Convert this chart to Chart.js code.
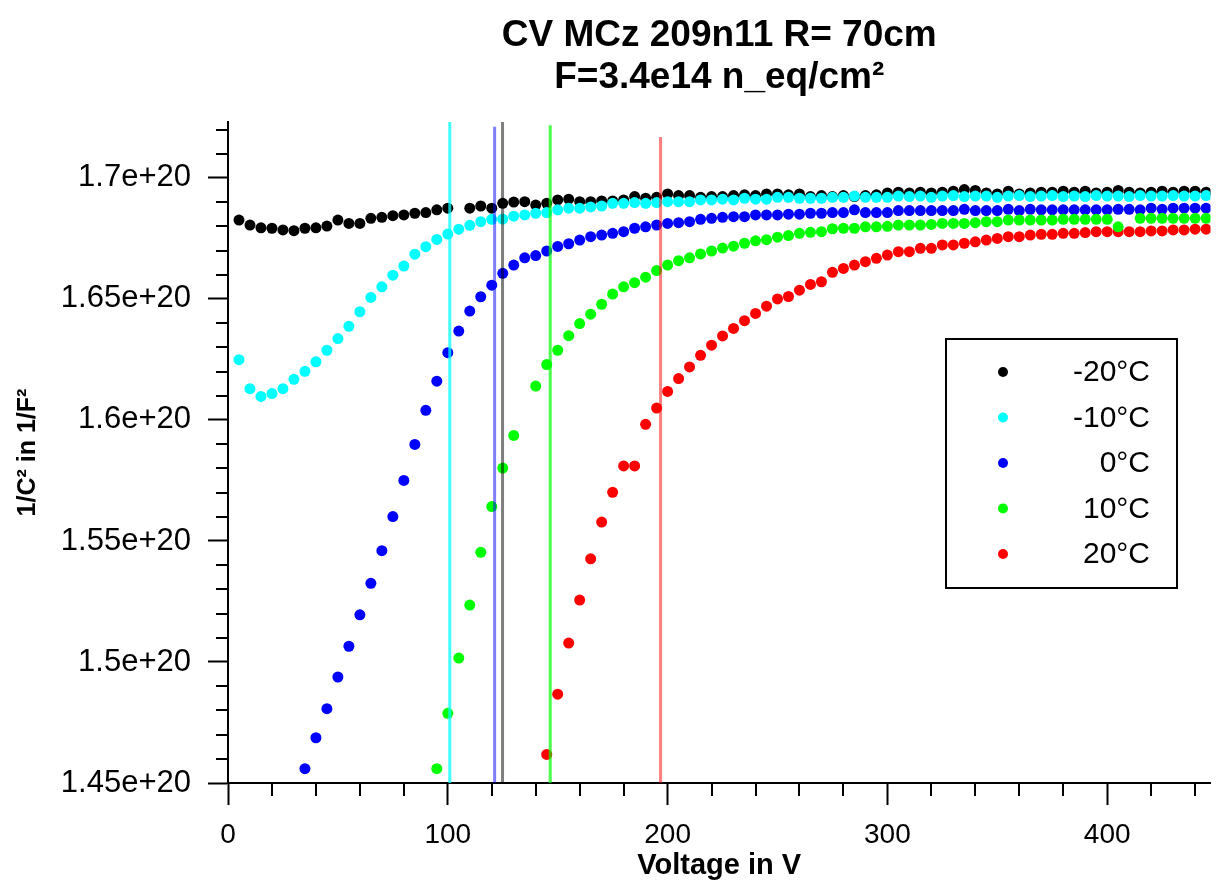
<!DOCTYPE html>
<html lang="en">
<head>
<meta charset="UTF-8">
<title>CV MCz 209n11 R= 70cm</title>
<script src="https://cdn.jsdelivr.net/npm/chart.js"></script>
<style>
  html, body { margin: 0; padding: 0; background: #fff; }
  #wrap { width: 1216px; height: 892px; }
</style>
</head>
<body>
<div id="wrap"><canvas id="cvChart" width="1216" height="892"></canvas></div>
<script>
// bias voltage in V (shared by all series, null = no point)
const voltages = [
  5, 10, 15, 20, 25, 30, 35, 40, 45, 50,
  55, 60, 65, 70, 75, 80, 85, 90, 95, 100,
  105, 110, 115, 120, 125, 130, 135, 140, 145, 150,
  155, 160, 165, 170, 175, 180, 185, 190, 195, 200,
  205, 210, 215, 220, 225, 230, 235, 240, 245, 250,
  255, 260, 265, 270, 275, 280, 285, 290, 295, 300,
  305, 310, 315, 320, 325, 330, 335, 340, 345, 350,
  355, 360, 365, 370, 375, 380, 385, 390, 395, 400,
  405, 410, 415, 420, 425, 430, 435, 440, 445
];

const tempLabels = ['-20°C', '-10°C', '0°C', '10°C', '20°C'];

// 1/C^2 in units of 1e20 F^-2
const invC2_m20 = [
  1.6826, 1.6805, 1.6794, 1.6792, 1.6785, 1.6782, 1.6792, 1.6794, 1.6801, 1.6826,
  1.6812, 1.6812, 1.6833, 1.6837, 1.6844, 1.6847, 1.6854, 1.6857, 1.6868, 1.6875,
  null,   1.6875, 1.6884, 1.6875, 1.6895, 1.6900, 1.6902, 1.6888, 1.6895, 1.6909,
  1.6912, 1.6902, 1.6902, 1.6905, 1.6905, 1.6909, 1.6923, 1.6916, 1.6920, 1.6934,
  1.6927, 1.6927, 1.6920, 1.6923, 1.6923, 1.6927, 1.6930, 1.6927, 1.6934, 1.6934,
  1.6930, 1.6934, 1.6923, 1.6927, 1.6923, 1.6927, 1.6923, 1.6927, 1.6930, 1.6938,
  1.6941, 1.6938, 1.6941, 1.6938, 1.6941, 1.6945, 1.6952, 1.6948, 1.6938, 1.6934,
  1.6945, 1.6934, 1.6938, 1.6941, 1.6941, 1.6945, 1.6941, 1.6945, 1.6938, 1.6941,
  1.6948, 1.6941, 1.6938, 1.6941, 1.6945, 1.6941, 1.6945, 1.6945, 1.6941
];
const invC2_m10 = [
  1.6249, 1.6129, 1.6097, 1.6109, 1.6129, 1.6168, 1.6201, 1.6240, 1.6288, 1.6336,
  1.6387, 1.6447, 1.6506, 1.6550, 1.6598, 1.6636, 1.6685, 1.6716, 1.6746, 1.6768,
  1.6788, 1.6804, 1.6819, 1.6829, 1.6830, 1.6842, 1.6847, 1.6854, 1.6857, 1.6868,
  1.6875, 1.6875, 1.6880, 1.6884, 1.6895, 1.6895, 1.6898, 1.6895, 1.6898, 1.6902,
  1.6902, 1.6902, 1.6909, 1.6909, 1.6912, 1.6909, 1.6916, 1.6912, 1.6912, 1.6920,
  1.6920, 1.6916, 1.6916, 1.6916, 1.6920, 1.6920, 1.6925, 1.6920, 1.6920, 1.6920,
  1.6925, 1.6923, 1.6925, 1.6920, 1.6925, 1.6927, 1.6923, 1.6925, 1.6925, 1.6920,
  1.6925, 1.6927, 1.6923, 1.6925, 1.6927, 1.6923, 1.6925, 1.6923, 1.6927, 1.6925,
  1.6925, 1.6923, 1.6927, 1.6925, 1.6925, 1.6927, 1.6925, 1.6925, 1.6927
];
const invC2_0 = [
  null,   null,   null,   null,   null,   null,   1.4559, 1.4687, 1.4807, 1.4938,
  1.5065, 1.5195, 1.5325, 1.5460, 1.5601, 1.5750, 1.5899, 1.6040, 1.6160, 1.6278,
  1.6367, 1.6450, 1.6509, 1.6557, 1.6606, 1.6640, 1.6670, 1.6679, 1.6698, 1.6717,
  1.6728, 1.6743, 1.6757, 1.6764, 1.6771, 1.6778, 1.6792, 1.6798, 1.6805, 1.6812,
  1.6815, 1.6819, 1.6829, 1.6833, 1.6837, 1.6840, 1.6840, 1.6847, 1.6847, 1.6847,
  1.6850, 1.6850, 1.6854, 1.6854, 1.6857, 1.6857, 1.6868, 1.6857, 1.6857, 1.6857,
  1.6865, 1.6865, 1.6865, 1.6865, 1.6865, 1.6865, 1.6870, 1.6865, 1.6865, 1.6865,
  1.6870, 1.6865, 1.6870, 1.6868, 1.6868, 1.6868, 1.6868, 1.6868, 1.6868, 1.6868,
  1.6870, 1.6870, 1.6868, 1.6875, 1.6870, 1.6875, 1.6875, 1.6875, 1.6875
];
const invC2_10 = [
  null,   null,   null,   null,   null,   null,   null,   null,   null,   null,
  null,   null,   null,   null,   null,   null,   null,   null,   1.4559, 1.4788,
  1.5016, 1.5235, 1.5453, 1.5642, 1.5801, 1.5936, null,   1.6140, 1.6229, 1.6288,
  1.6348, 1.6398, 1.6437, 1.6478, 1.6520, 1.6550, 1.6567, 1.6590, 1.6617, 1.6640,
  1.6658, 1.6670, 1.6686, 1.6698, 1.6710, 1.6718, 1.6730, 1.6740, 1.6745, 1.6755,
  1.6762, 1.6771, 1.6775, 1.6778, 1.6790, 1.6792, 1.6792, 1.6798, 1.6798, 1.6800,
  1.6805, 1.6805, 1.6805, 1.6808, 1.6812, 1.6812, 1.6812, 1.6815, 1.6819, 1.6819,
  1.6826, 1.6826, 1.6826, 1.6826, 1.6826, 1.6829, 1.6829, 1.6829, 1.6829, 1.6829,
  1.6798, null,   1.6833, 1.6833, 1.6833, 1.6833, 1.6833, 1.6833, 1.6833
];
const invC2_20 = [
  null,   null,   null,   null,   null,   null,   null,   null,   null,   null,
  null,   null,   null,   null,   null,   null,   null,   null,   null,   null,
  null,   null,   null,   null,   null,   null,   null,   null,   1.4618, 1.4867,
  1.5078, 1.5256, 1.5426, 1.5578, 1.5701, 1.5810, 1.5810, 1.5982, 1.6049, 1.6118,
  1.6171, 1.6219, 1.6267, 1.6309, 1.6347, 1.6378, 1.6410, 1.6440, 1.6470, 1.6500,
  1.6510, 1.6536, 1.6560, 1.6571, 1.6610, 1.6626, 1.6640, 1.6654, 1.6668, 1.6681,
  1.6695, 1.6695, 1.6709, 1.6709, 1.6723, 1.6723, 1.6730, 1.6736, 1.6743, 1.6750,
  1.6757, 1.6757, 1.6764, 1.6767, 1.6767, 1.6771, 1.6771, 1.6774, 1.6778, 1.6778,
  1.6778, 1.6778, 1.6778, 1.6781, 1.6781, 1.6785, 1.6785, 1.6788, 1.6788
];

// depletion voltage markers (vertical lines), same order as tempLabels
const depletionV   = [124.9, 100.9, 121.3, 146.6, 196.8];
const depletionTop = [1.73,  1.73,  1.7211, 1.7218, 1.7169];

const xTicks = [0, 100, 200, 300, 400];
const yTicks = [1.45, 1.5, 1.55, 1.6, 1.65, 1.7];
const yTickLabels = ['1.45e+20', '1.5e+20', '1.55e+20', '1.6e+20', '1.65e+20', '1.7e+20'];

const seriesColors = ['#000000', '#00ffff', '#0000ff', '#00ff00', '#ff0000'];
const lineColors = ['rgba(0,0,0,0.5)', 'rgba(0,255,255,0.75)', 'rgba(0,0,255,0.5)',
                    'rgba(0,255,0,0.7)', 'rgba(255,0,0,0.5)'];
const drawOrder = [5, 4, 3, 1, 2];

const FONT = '"Liberation Sans", Arial, Helvetica, sans-serif';
const allSeries = [invC2_m20, invC2_m10, invC2_0, invC2_10, invC2_20];

function toPoints(values) {
  return voltages.map((v, i) => ({ x: v, y: values[i] })).filter(p => p.y !== null);
}

const datasets = [];
allSeries.forEach((vals, k) => {
  datasets.push({
    label: tempLabels[k],
    data: toPoints(vals),
    backgroundColor: seriesColors[k],
    borderColor: seriesColors[k],
    pointRadius: 5.5,
    pointBorderWidth: 0,
    pointHoverRadius: 5.5,
    showLine: false,
    order: drawOrder[k],
    inLegend: true
  });
});
depletionV.forEach((v, k) => {
  datasets.push({
    label: '',
    data: [{ x: v, y: 1.44 }, { x: v, y: depletionTop[k] }],
    borderColor: lineColors[k],
    borderWidth: 3,
    pointRadius: 0,
    showLine: true,
    order: 0,
    inLegend: false
  });
});

// small unlabeled ticks between the major ones
const minorTicks = {
  id: 'minorTicks',
  afterDraw(chart) {
    const { ctx, chartArea } = chart;
    const xs = chart.scales.x, ys = chart.scales.y;
    ctx.save();
    ctx.strokeStyle = '#000';
    ctx.lineWidth = 2;
    ctx.beginPath();
    for (let i = 145; i <= 172; i++) {
      if (i % 5 === 0) continue;
      const py = Math.round(ys.getPixelForValue(i / 100));
      ctx.moveTo(chartArea.left - 12, py);
      ctx.lineTo(chartArea.left, py);
    }
    for (let v = 20; v <= 440; v += 20) {
      if (v % 100 === 0) continue;
      const px = Math.round(xs.getPixelForValue(v));
      ctx.moveTo(px, chartArea.bottom);
      ctx.lineTo(px, chartArea.bottom + 13);
    }
    ctx.stroke();
    ctx.restore();
  }
};

// framed legend inside the plot
const boxLegend = {
  id: 'boxLegend',
  afterDraw(chart) {
    const ctx = chart.ctx;
    const items = chart.data.datasets.filter(d => d.inLegend);
    ctx.save();
    ctx.fillStyle = '#fff';
    ctx.fillRect(946, 339, 231, 249);
    ctx.strokeStyle = '#000';
    ctx.lineWidth = 2;
    ctx.strokeRect(946, 339, 231, 249);
    ctx.font = '30px ' + FONT;
    ctx.textAlign = 'right';
    ctx.textBaseline = 'middle';
    items.forEach((d, i) => {
      const y = 372 + i * 45.5;
      ctx.fillStyle = d.backgroundColor;
      ctx.beginPath();
      ctx.arc(1003, y, 5, 0, Math.PI * 2);
      ctx.fill();
      ctx.fillStyle = '#000';
      ctx.fillText(d.label, 1150, y + 1);
    });
    ctx.restore();
  }
};

new Chart(document.getElementById('cvChart'), {
  type: 'scatter',
  data: { datasets: datasets },
  plugins: [minorTicks, boxLegend],
  options: {
    responsive: false,
    animation: false,
    devicePixelRatio: 1,
    layout: { padding: 0 },
    plugins: {
      legend: { display: false },
      tooltip: { enabled: false },
      title: {
        display: true,
        text: ['CV MCz 209n11 R= 70cm', 'F=3.4e14 n_eq/cm²'],
        color: '#000',
        fullSize: false,
        font: { family: FONT, size: 37, weight: 'bold', lineHeight: 42 / 37 },
        padding: { top: 15, bottom: 23 }
      }
    },
    scales: {
      x: {
        type: 'linear',
        min: 0,
        max: 447,
        afterBuildTicks: s => { s.ticks = xTicks.map(v => ({ value: v })); },
        afterFit: s => { s.height = 109; },
        ticks: { color: '#000', font: { family: FONT, size: 28 }, padding: 13, maxRotation: 0, autoSkip: false },
        grid: { drawOnChartArea: false, tickLength: 22, tickWidth: 2, tickColor: '#000' },
        border: { display: true, color: '#000', width: 2 },
        title: {
          display: true,
          text: 'Voltage in V',
          color: '#000',
          font: { family: FONT, size: 29, weight: 'bold' },
          padding: { top: 0, bottom: 9 }
        }
      },
      y: {
        type: 'linear',
        min: 1.45,
        max: 1.7231,
        afterBuildTicks: s => { s.ticks = yTicks.map(v => ({ value: v })); },
        afterFit: s => { s.width = 228; },
        ticks: {
          color: '#000',
          font: { family: FONT, size: 31 },
          padding: 17,
          autoSkip: false,
          callback: (v, i) => yTickLabels[i]
        },
        grid: { drawOnChartArea: false, tickLength: 20, tickWidth: 2, tickColor: '#000' },
        border: { display: true, color: '#000', width: 2 },
        title: {
          display: true,
          text: '1/C² in 1/F²',
          color: '#000',
          font: { family: FONT, size: 25, weight: 'bold' },
          padding: { top: 13, bottom: 0 }
        }
      }
    }
  }
});
</script>
</body>
</html>
